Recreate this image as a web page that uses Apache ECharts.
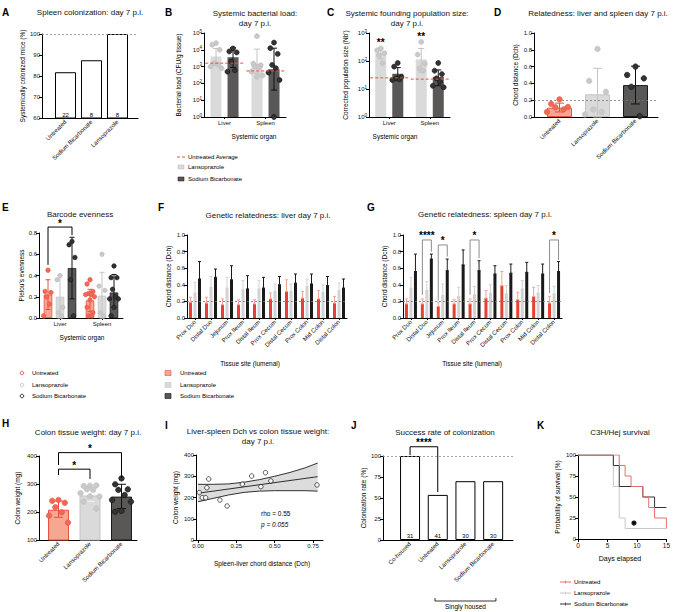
<!DOCTYPE html>
<html><head><meta charset="utf-8">
<script src="https://cdn.jsdelivr.net/npm/echarts@6/dist/echarts.min.js"></script>
<style>html,body{margin:0;padding:0;background:#fff}#c{width:673px;height:612px}</style>
</head><body><div id="c"></div>
<script>
const FONT = '"Liberation Sans", Arial, Helvetica, sans-serif';

// ================= DATA =================
// A
const aCats = ['Untreated', 'Sodium Bicarbonate', 'Lansoprazole'];
const aValues = [81.8, 87.5, 100];
const aCounts = [22, 8, 8];
// B
const organs = ['Liver', 'Spleen'];
const bLansoMean = [4000, 1500];
const bBicarbMean = [3600, 700];
const bLansoErr = [[1300, 12000], [400, 11000]];
const bBicarbErr = [[900, 13000], [40, 12500]];
const bUntreatedAvg = [1600, 550];
const bLansoPts = [[25000, 20000, 10000, 1600, 1300, 1000, 800], [65000, 1500, 1200, 1000, 900, 500, 300, 250]];
const bBicarbPts = [[12000, 8000, 7000, 2000, 600, 500], [27000, 12500, 5700, 1260, 800, 440, 160, 1]];
// C
const cLansoMean = [190, 115];
const cBicarbMean = [35, 27];
const cLansoErr = [[120, 290], [40, 280]];
const cBicarbErr = [[22, 58], [13, 48]];
const cUntreatedAvg = [25, 22.5];
const cLansoPts = [[280, 240, 190, 160, 83], [480, 170, 80, 54, 45]];
const cBicarbPts = [[85, 63, 27, 24, 22, 21], [85, 45, 34, 24, 18, 13, 11.5]];
const cSigLabels = ['**', '**'];
const cSigY = [440, 780];
// D
const dCats = ['Untreated', 'Lansoprazole', 'Sodium Bicarbonate'];
const dMeans = [0.11, 0.27, 0.38];
const dErr = [[0.06, 0.165], [0.0, 0.58], [0.155, 0.605]];
const dPts = [[0.21, 0.156, 0.12, 0.116, 0.092, 0.06], [0.81, 0.43, 0.30, 0.09, 0.06, 0.03], [0.60, 0.50, 0.46, 0.36, 0.01]];
// E
const eUntrMean = [0.22, 0.165];
const eLansoMean = [0.20, 0.21];
const eBicarbMean = [0.47, 0.24];
const eUntrErr = [[0.08, 0.36], [0.06, 0.27]];
const eLansoErr = [[0.0, 0.40], [0.0, 0.43]];
const eBicarbErr = [[0.18, 0.76], [0.10, 0.41]];
const eUntrPts = [[0.45, 0.25, 0.24, 0.20, 0.13, 0.02], [0.36, 0.32, 0.25, 0.23, 0.22, 0.22, 0.20, 0.17, 0.10, 0.05, 0.02, 0.02]];
const eLansoPts = [[0.40, 0.36, 0.10, 0.05, 0.02], [0.60, 0.30, 0.26, 0.05, 0.02]];
const eBicarbPts = [[0.72, 0.69, 0.57, 0.36, 0.02], [0.49, 0.38, 0.38, 0.27, 0.20, 0.18, 0.18, 0.10, 0.02]];
// F / G
const siteCats = ['Prox Duo', 'Distal Duo', 'Jejunum', 'Prox Ileum', 'Distal Ileum', 'Prox Cecum', 'Distal Cecum', 'Prox Colon', 'Mid Colon', 'Distal Colon'];
const fUntr = [0.19, 0.18, 0.16, 0.16, 0.17, 0.23, 0.32, 0.24, 0.23, 0.18];
const fUntrHi = [0.25, 0.25, 0.23, 0.22, 0.22, 0.30, 0.46, 0.32, 0.33, 0.26];
const fLanso = [0.30, 0.37, 0.36, 0.34, 0.35, 0.32, 0.32, 0.38, 0.31, 0.33];
const fLansoHi = [0.43, 0.50, 0.49, 0.45, 0.45, 0.41, 0.41, 0.47, 0.40, 0.42];
const fBicarb = [0.47, 0.49, 0.46, 0.35, 0.36, 0.40, 0.42, 0.41, 0.39, 0.36];
const fBicarbHi = [0.68, 0.59, 0.63, 0.51, 0.49, 0.50, 0.53, 0.53, 0.50, 0.47];
const gUntr = [0.17, 0.17, 0.14, 0.17, 0.17, 0.24, 0.39, 0.22, 0.26, 0.18];
const gUntrHi = [0.23, 0.23, 0.19, 0.22, 0.23, 0.33, 0.56, 0.31, 0.37, 0.26];
const gLanso = [0.36, 0.33, 0.27, 0.26, 0.28, 0.30, 0.29, 0.35, 0.30, 0.29];
const gLansoHi = [0.49, 0.44, 0.41, 0.37, 0.38, 0.40, 0.39, 0.45, 0.39, 0.38];
const gBicarb = [0.56, 0.71, 0.57, 0.64, 0.57, 0.53, 0.54, 0.55, 0.53, 0.56];
const gBicarbHi = [0.77, 0.77, 0.71, 0.82, 0.69, 0.63, 0.65, 0.67, 0.65, 0.68];
const gSigCats = [1, 2, 4, 9];
const gSigLabels = ['****', '*', '*', '*'];
const gSigTop = [0.94, 0.88, 0.94, 0.94];
const gSigLeftEnd = [0.28, 0.21, 0.28, 0.30];
const gSigRightEnd = [0.80, 0.74, 0.72, 0.70];
// H
const hCats = ['Untreated', 'Lansoprazole', 'Sodium Bicarbonate'];
const hMeans = [208, 259, 255];
const hErr = [[181, 239], [237, 282], [212, 299]];
const hPts = [[243, 240, 233, 217, 199, 187, 162], [294, 293, 295, 281, 279, 267, 255, 256, 237, 212], [320, 299, 281, 279, 261, 243, 237, 204, 201]];
const hSigLabels = ['*', '*'];
const hSigPairs = [[0, 1], [0, 2]];
const hSigTop = [353, 412];
const hSigLeftEnd = [332, 368];
const hSigRightEnd = [318, 321];
// I
const iX = [0.008, 0.028, 0.05, 0.058, 0.07, 0.143, 0.19, 0.289, 0.35, 0.41, 0.44, 0.475, 0.776];
const iY = [223, 199, 199, 246, 287, 188, 160, 263, 301, 251, 317, 278, 259];
const iBandX = [0, 0.1, 0.2, 0.3, 0.4, 0.5, 0.6, 0.7, 0.78];
const iUpper = [262, 262, 264, 272, 284, 300, 318, 340, 362];
const iLower = [180, 196, 212, 224, 230, 232, 232, 232, 230];
const iFitX = [0, 0.78];
const iFitY = [220, 298];
// J
const jCats = ['Co-housed', 'Untreated', 'Lansoprazole', 'Sodium Bicarbonate'];
const jValues = [100, 53.7, 70, 70];
const jCounts = [31, 41, 30, 30];
// K
const kUntreated = [[0, 100], [7, 87.5], [8, 75], [9, 62.5], [11, 50], [12, 37.5], [13, 25], [15, 12.5]];
const kLanso = [[0, 100], [6, 62.5], [7, 25], [8, 12.5], [15, 12.5]];
const kBicarb = [[0, 100], [6, 87.5], [7, 62.5], [11, 50], [13, 37.5], [15, 37.5]];

// ================= STYLE =================
const C_UNTR_FILL = '#f6a691', C_UNTR_LINE = '#e5533f', C_UNTR_DOT = '#ee6a57';
const C_LAN_FILL = '#dadada', C_LAN_LINE = '#c4c4c4', C_LAN_DOT = '#c9c9c9';
const C_BIC_FILL = '#5a5757', C_BIC_LINE = '#1a1a1a', C_BIC_DOT = '#333333';
const F_RED = '#e8402f', F_REDERR = '#f4a296', F_GREY = '#d2d2d2', F_BLACK = '#1a1a1a';

const grid = [], xAxis = [], yAxis = [], series = [], graphic = [];
const AX = { show: true, onZero: false, lineStyle: { color: '#000', width: 1 } };
const TK = { show: true, length: 3, lineStyle: { color: '#000', width: 1 } };
const LB = { fontSize: 6, color: '#111', fontFamily: FONT, fontWeight: 'normal', margin: 2 };
const NM = { fontSize: 6.5, fontFamily: FONT, fontWeight: 'normal', color: '#000' };
const JIT = [0, -1, 1, -0.5, 0.5, -1.5, 1.5, 0, -1, 1, -0.5, 0.5];

function G(left, top, width, height) { grid.push({ left, top, width, height, containLabel: false }); return grid.length - 1; }
function yV(gi, min, max, interval, name, gap, extra) {
  yAxis.push(Object.assign({
    type: 'value', gridIndex: gi, min, max, interval, axisLine: AX, axisTick: TK,
    axisLabel: Object.assign({}, LB), splitLine: { show: false },
    name, nameLocation: 'middle', nameGap: gap, nameRotate: 90, nameTextStyle: NM
  }, extra || {}));
  return yAxis.length - 1;
}
function yLog(gi, max, name, gap) {
  yAxis.push({
    type: 'log', logBase: 10, gridIndex: gi, min: 1, max, axisLine: AX, axisTick: TK, splitLine: { show: false },
    minorTick: { show: false },
    axisLabel: Object.assign({}, LB, {
      formatter: v => '{b|10}{s|' + Math.round(Math.log10(v)) + '}',
      rich: { b: { fontSize: 6, fontFamily: FONT, color: '#111' }, s: { fontSize: 4.5, fontFamily: FONT, color: '#111', verticalAlign: 'top', padding: [0, 0, 4, 0] } }
    }),
    name, nameLocation: 'middle', nameGap: gap, nameRotate: 90, nameTextStyle: NM
  });
  return yAxis.length - 1;
}
function yH(gi, min, max, type) { yAxis.push({ type: type || 'value', gridIndex: gi, min, max, show: false }); return yAxis.length - 1; }
function xHV(gi, min, max) { xAxis.push({ type: 'value', gridIndex: gi, min, max, show: false }); return xAxis.length - 1; }
function xLine(gi) {
  xAxis.push({ type: 'value', gridIndex: gi, min: 0, max: 1, axisLine: AX, axisTick: { show: false }, axisLabel: { show: false }, splitLine: { show: false } });
  return xAxis.length - 1;
}
function xC(gi, data, o) {
  o = o || {};
  xAxis.push({
    type: 'category', gridIndex: gi, data, boundaryGap: true,
    axisLine: o.line === false ? { show: false } : AX,
    axisTick: o.tick === false ? { show: false } : { show: true, alignWithLabel: true, length: 2, lineStyle: { color: '#000' } },
    axisLabel: Object.assign({}, LB, { interval: 0, rotate: o.rotate || 0, margin: o.margin || 3, fontSize: o.fs || 6 })
  });
  return xAxis.length - 1;
}
function T(x, y, text, st) {
  graphic.push({ type: 'text', x, y, silent: true, style: Object.assign({ text, fontSize: 6, fontFamily: FONT, fontWeight: 'normal', fill: '#000', align: 'left', verticalAlign: 'middle' }, st || {}) });
}
function letter(x, y, t) { T(x, y, t, { fontSize: 10, fontWeight: 'bold' }); }
function title(x, y, t) { T(x, y, t, { fontSize: 8, align: 'center', fill: '#111' }); }
function dots(xi, yi, data, fill, stroke, size) {
  series.push({ type: 'scatter', xAxisIndex: xi, yAxisIndex: yi, data, symbol: 'circle', symbolSize: size || 5, z: 6, silent: true,
    itemStyle: { color: fill, borderColor: stroke, borderWidth: 0.6, opacity: 1 } });
}
function pts(center, vals, spread) { return vals.map((v, k) => [center + JIT[k % JIT.length] * spread, v]); }
function errBars(xi, yi, items, color, cap, lw) {
  series.push({ type: 'custom', xAxisIndex: xi, yAxisIndex: yi, data: items, z: 5, silent: true, clip: false,
    renderItem: (p, api) => {
      const x = api.value(0), lo = api.value(1), hi = api.value(2);
      const a = api.coord([x, lo]), b = api.coord([x, hi]);
      const st = { stroke: color, lineWidth: lw || 1 };
      return { type: 'group', children: [
        { type: 'line', shape: { x1: a[0], y1: a[1], x2: b[0], y2: b[1] }, style: st },
        { type: 'line', shape: { x1: b[0] - cap / 2, y1: b[1], x2: b[0] + cap / 2, y2: b[1] }, style: st },
        { type: 'line', shape: { x1: a[0] - cap / 2, y1: a[1], x2: a[0] + cap / 2, y2: a[1] }, style: st }
      ] };
    } });
}
function hSeg(xi, yi, items, half, color) {
  series.push({ type: 'custom', xAxisIndex: xi, yAxisIndex: yi, data: items, z: 7, silent: true, clip: false,
    renderItem: (p, api) => {
      const a = api.coord([api.value(0) - half, api.value(1)]), b = api.coord([api.value(0) + half, api.value(1)]);
      return { type: 'line', shape: { x1: a[0], y1: a[1], x2: b[0], y2: b[1] }, style: { stroke: color, lineWidth: 1, lineDash: [3, 2] } };
    } });
}
function brackets(xi, yi, items, labels, color, fs) {
  series.push({ type: 'custom', xAxisIndex: xi, yAxisIndex: yi, data: items, z: 7, silent: true, clip: false,
    renderItem: (p, api) => {
      const x1 = api.value(0), x2 = api.value(1), top = api.value(2), b1 = api.value(3), b2 = api.value(4);
      const p1 = api.coord([x1, b1]), p2 = api.coord([x1, top]), p3 = api.coord([x2, top]), p4 = api.coord([x2, b2]);
      return { type: 'group', children: [
        { type: 'polyline', shape: { points: [p1, p2, p3, p4] }, style: { stroke: color, lineWidth: 1, fill: null } },
        { type: 'text', x: (p2[0] + p3[0]) / 2, y: p2[1] + 1, style: { text: labels[p.dataIndex], fontFamily: FONT, fontSize: fs || 10, fontWeight: 'bold', fill: '#000', align: 'center', verticalAlign: 'bottom' } }
      ] };
    } });
}
function refLine(xi, yi, v, color, dash) {
  series.push({ type: 'line', xAxisIndex: xi, yAxisIndex: yi, data: [], silent: true,
    markLine: { silent: true, symbol: 'none', animation: false, label: { show: false },
      lineStyle: { type: dash || [2, 2], color: color || '#8a8a8a', width: 0.8 }, data: [{ yAxis: v }] } });
}

// ================= PANEL A =================
(function () {
  const gA = G(42, 34, 96, 84), gB = G(52.5, 34, 78, 84);
  const xA = xLine(gA), yA = yV(gA, 60, 100, 10, 'Systemically colonized mice (%)', 16);
  const xB = xC(gB, aCats, { line: false, tick: false, rotate: 45 });
  const yB = yH(gB, 60, 100);
  series.push({ type: 'bar', xAxisIndex: xB, yAxisIndex: yB, data: aValues, barWidth: 21, z: 3,
    itemStyle: { color: '#fff', borderColor: '#000', borderWidth: 1 },
    label: { show: true, position: 'insideBottom', distance: 1, fontSize: 6, fontFamily: FONT, color: '#000', formatter: p => String(aCounts[p.dataIndex]) } });
  refLine(xA, yA, 100);
  letter(2, 12, 'A'); title(90, 12, 'Spleen colonization: day 7 p.i.');
})();

// ================= PANEL B =================
(function () {
  const g = G(204, 33, 82, 84);
  const xc = xC(g, organs, { margin: 3 }), xv = xHV(g, -0.5, 1.5);
  const y = yLog(g, 100000, 'Bacterial load (CFU/g tissue)', 22);
  const off = 8.5 / 41;
  series.push({ type: 'bar', xAxisIndex: xc, yAxisIndex: y, data: bLansoMean, barWidth: 11, barGap: '55%', itemStyle: { color: C_LAN_FILL }, z: 2 });
  series.push({ type: 'bar', xAxisIndex: xc, yAxisIndex: y, data: bBicarbMean, barWidth: 11, barGap: '55%', itemStyle: { color: C_BIC_FILL }, z: 2 });
  errBars(xv, y, bLansoErr.map((e, i) => [i - off, e[0], e[1]]), '#c4c4c4', 6);
  errBars(xv, y, bBicarbErr.map((e, i) => [i + off, e[0], e[1]]), '#111', 6);
  bLansoPts.forEach((arr, i) => dots(xv, y, pts(i - off, arr, 0.09), C_LAN_DOT, '#bdbdbd', 5));
  bBicarbPts.forEach((arr, i) => dots(xv, y, pts(i + off, arr, 0.09), C_BIC_DOT, '#111', 5));
  hSeg(xv, y, bUntreatedAvg.map((v, i) => [i, v]), 0.47, '#e5533f');
  letter(165, 12, 'B');
  title(255, 13, 'Systemic bacterial load:'); title(255, 23, 'day 7 p.i.');
  T(254, 136, 'Systemic organ', { fontSize: 6.5, align: 'center' });
  graphic.push({ type: 'line', silent: true, shape: { x1: 177, y1: 157, x2: 185, y2: 157 }, style: { stroke: '#e5533f', lineWidth: 1, lineDash: [3, 2] } });
  T(188, 157, 'Untreated Average');
  graphic.push({ type: 'rect', silent: true, shape: { x: 178, y: 165, width: 6, height: 4 }, style: { fill: C_LAN_FILL, stroke: '#bbb', lineWidth: 0.5 } });
  T(188, 167, 'Lansoprazole');
  graphic.push({ type: 'rect', silent: true, shape: { x: 178, y: 177, width: 6, height: 4 }, style: { fill: C_BIC_FILL, stroke: '#111', lineWidth: 0.5 } });
  T(188, 179, 'Sodium Bicarbonate');
})();

// ================= PANEL C =================
(function () {
  const g = G(369, 33, 81, 84);
  const xc = xC(g, organs, { margin: 3 }), xv = xHV(g, -0.5, 1.5);
  const y = yLog(g, 1000, 'Corrected population size (Nb\')', 20);
  const off = 8.5 / 40.5;
  series.push({ type: 'bar', xAxisIndex: xc, yAxisIndex: y, data: cLansoMean, barWidth: 11, barGap: '55%', itemStyle: { color: C_LAN_FILL }, z: 2 });
  series.push({ type: 'bar', xAxisIndex: xc, yAxisIndex: y, data: cBicarbMean, barWidth: 11, barGap: '55%', itemStyle: { color: C_BIC_FILL }, z: 2 });
  errBars(xv, y, cLansoErr.map((e, i) => [i - off, e[0], e[1]]), '#c4c4c4', 6);
  errBars(xv, y, cBicarbErr.map((e, i) => [i + off, e[0], e[1]]), '#111', 6);
  cLansoPts.forEach((arr, i) => dots(xv, y, pts(i - off, arr, 0.09), C_LAN_DOT, '#bdbdbd', 5));
  cBicarbPts.forEach((arr, i) => dots(xv, y, pts(i + off, arr, 0.09), C_BIC_DOT, '#111', 5));
  hSeg(xv, y, cUntreatedAvg.map((v, i) => [i, v]), 0.47, '#e5533f');
  series.push({ type: 'custom', xAxisIndex: xv, yAxisIndex: y, data: cSigY.map((v, i) => [i - off, v]), z: 7, silent: true, clip: false,
    renderItem: (p, api) => { const c = api.coord([api.value(0), api.value(1)]);
      return { type: 'text', x: c[0], y: c[1], style: { text: cSigLabels[p.dataIndex], fontFamily: FONT, fontSize: 10, fontWeight: 'bold', fill: '#000', align: 'center', verticalAlign: 'middle' } }; } });
  letter(327, 12, 'C');
  title(407, 13, 'Systemic founding population size:'); title(407, 23, 'day 7 p.i.');
  T(395, 136, 'Systemic organ', { fontSize: 6.5, align: 'center' });
})();

// ================= PANEL D =================
(function () {
  const gA = G(534, 33, 124, 84), gB = G(540.5, 33, 114, 84);
  const xA = xLine(gA), yA = yV(gA, 0, 1, 0.2, 'Chord distance (Dch)', 15, { axisLabel: Object.assign({}, LB, { formatter: v => v.toFixed(1) }) });
  const xB = xC(gB, dCats, { line: false, tick: false, rotate: 45 }), xv = xHV(gB, -0.5, 2.5);
  const yB = yH(gB, 0, 1);
  const fills = [C_UNTR_FILL, C_LAN_FILL, C_BIC_FILL], lines = [C_UNTR_LINE, C_LAN_LINE, C_BIC_LINE];
  series.push({ type: 'bar', xAxisIndex: xB, yAxisIndex: yB, barWidth: 25, z: 2,
    data: dMeans.map((v, i) => ({ value: v, itemStyle: { color: fills[i], borderColor: lines[i], borderWidth: 1 } })) });
  refLine(xA, yA, 0.2, '#777');
  const ec = [C_UNTR_LINE, '#c4c4c4', '#111'];
  dErr.forEach((e, i) => errBars(xv, yB, [[i, e[0], e[1]]], ec[i], 9));
  const df = [C_UNTR_DOT, C_LAN_DOT, C_BIC_DOT], ds = [C_UNTR_LINE, '#bdbdbd', '#111'];
  dPts.forEach((arr, i) => dots(xv, yB, pts(i, arr, 0.22), df[i], ds[i], 5.5));
  letter(494, 12, 'D');
  title(598, 13, 'Relatedness: liver and spleen day 7 p.i.');
})();

// ================= PANEL E =================
(function () {
  const g = G(39, 233, 84, 85);
  const xc = xC(g, organs, { margin: 3 }), xv = xHV(g, -0.5, 1.5);
  const y = yV(g, 0, 0.8, 0.2, 'Pielou\'s evenness', 14, { axisLabel: Object.assign({}, LB, { formatter: v => v.toFixed(1) }) });
  const off = 12 / 42;
  series.push({ type: 'bar', xAxisIndex: xc, yAxisIndex: y, data: eUntrMean, barWidth: 8.5, barGap: '41%', z: 2, itemStyle: { color: C_UNTR_FILL, borderColor: C_UNTR_LINE, borderWidth: 0.8 } });
  series.push({ type: 'bar', xAxisIndex: xc, yAxisIndex: y, data: eLansoMean, barWidth: 8.5, barGap: '41%', z: 2, itemStyle: { color: C_LAN_FILL, borderColor: C_LAN_LINE, borderWidth: 0.8 } });
  series.push({ type: 'bar', xAxisIndex: xc, yAxisIndex: y, data: eBicarbMean, barWidth: 8.5, barGap: '41%', z: 2, itemStyle: { color: C_BIC_FILL, borderColor: C_BIC_LINE, borderWidth: 0.8 } });
  errBars(xv, y, eUntrErr.map((e, i) => [i - off, e[0], e[1]]), C_UNTR_LINE, 5);
  errBars(xv, y, eLansoErr.map((e, i) => [i, e[0], e[1]]), '#c4c4c4', 5);
  errBars(xv, y, eBicarbErr.map((e, i) => [i + off, e[0], e[1]]), '#111', 5);
  eUntrPts.forEach((arr, i) => dots(xv, y, pts(i - off, arr, 0.07), C_UNTR_DOT, C_UNTR_LINE, 4.5));
  eLansoPts.forEach((arr, i) => dots(xv, y, pts(i, arr, 0.07), C_LAN_DOT, '#bdbdbd', 4.5));
  eBicarbPts.forEach((arr, i) => dots(xv, y, pts(i + off, arr, 0.07), C_BIC_DOT, '#111', 4.5));
  brackets(xv, y, [[-off, off, 0.856, 0.50, 0.78]], ['*'], '#000', 10);
  letter(2, 207, 'E');
  title(80, 214, 'Barcode evenness');
  T(82, 337, 'Systemic organ', { fontSize: 6.5, align: 'center' });
  const lc = [C_UNTR_LINE, '#c4c4c4', '#222'], ln = ['Untreated', 'Lansoprazole', 'Sodium Bicarbonate'], ly = [373, 385, 396];
  ln.forEach((n, k) => {
    graphic.push({ type: 'circle', silent: true, shape: { cx: 22, cy: ly[k], r: 1.8 }, style: { fill: '#fff', stroke: lc[k], lineWidth: 0.9 } });
    T(32, ly[k], n);
  });
})();

// ================= PANELS F & G =================
function sitePanel(left, width, u, uh, l, lh, b, bh) {
  const g = G(left, 235, width, 83);
  const xc = xC(g, siteCats, { rotate: 45, margin: 3 }), xv = xHV(g, -0.5, 9.5);
  const y = yV(g, 0, 1, 0.2, 'Chord distance (Dch)', 15, { axisLabel: Object.assign({}, LB, { formatter: v => v.toFixed(1) }) });
  const cw = width / 10, off = 4.5 / cw;
  series.push({ type: 'bar', xAxisIndex: xc, yAxisIndex: y, data: u, barWidth: 3, barGap: '50%', z: 2, itemStyle: { color: F_RED } });
  series.push({ type: 'bar', xAxisIndex: xc, yAxisIndex: y, data: l, barWidth: 3, barGap: '50%', z: 2, itemStyle: { color: F_GREY } });
  series.push({ type: 'bar', xAxisIndex: xc, yAxisIndex: y, data: b, barWidth: 3, barGap: '50%', z: 2, itemStyle: { color: F_BLACK } });
  errBars(xv, y, u.map((v, i) => [i - off, v, uh[i]]), F_REDERR, 3);
  errBars(xv, y, l.map((v, i) => [i, v, lh[i]]), F_GREY, 3);
  errBars(xv, y, b.map((v, i) => [i + off, v, bh[i]]), F_BLACK, 3);
  refLine(xv, y, 0.2, '#777');
  return { xv, y, off };
}
(function () {
  sitePanel(187, 160, fUntr, fUntrHi, fLanso, fLansoHi, fBicarb, fBicarbHi);
  letter(158, 207, 'F');
  title(268, 215, 'Genetic relatedness: liver day 7 p.i.');
  T(250, 363, 'Tissue site (lumenal)', { fontSize: 6.5, align: 'center' });
  const fc = [C_UNTR_FILL, C_LAN_FILL, C_BIC_FILL], sc = [C_UNTR_LINE, '#c4c4c4', '#111'], ln = ['Untreated', 'Lansoprazole', 'Sodium Bicarbonate'], ly = [373, 385, 396];
  ln.forEach((n, k) => {
    graphic.push({ type: 'rect', silent: true, shape: { x: 165, y: ly[k] - 2.5, width: 6, height: 5 }, style: { fill: fc[k], stroke: sc[k], lineWidth: 0.6 } });
    T(180, ly[k], n);
  });
})();
(function () {
  const r = sitePanel(403, 159, gUntr, gUntrHi, gLanso, gLansoHi, gBicarb, gBicarbHi);
  brackets(r.xv, r.y, gSigCats.map((c, k) => [c - r.off, c + r.off, gSigTop[k], gSigLeftEnd[k], gSigRightEnd[k]]), gSigLabels, '#8c8c8c', 10);
  letter(367, 207, 'G');
  title(485, 214, 'Genetic relatedness: spleen day 7 p.i.');
  T(472, 363, 'Tissue site (lumenal)', { fontSize: 6.5, align: 'center' });
})();

// ================= PANEL H =================
(function () {
  const gA = G(39, 456, 98, 84), gB = G(42.75, 456, 94.5, 84);
  const xA = xLine(gA), yA = yV(gA, 100, 400, 100, 'Colon weight (mg)', 18);
  const xB = xC(gB, hCats, { line: false, tick: false, rotate: 45 }), xv = xHV(gB, -0.5, 2.5);
  const yB = yH(gB, 100, 400);
  const fills = [C_UNTR_FILL, C_LAN_FILL, C_BIC_FILL], lines = [C_UNTR_LINE, C_LAN_LINE, C_BIC_LINE];
  series.push({ type: 'bar', xAxisIndex: xB, yAxisIndex: yB, barWidth: 21, z: 2,
    data: hMeans.map((v, i) => ({ value: v, itemStyle: { color: fills[i], borderColor: lines[i], borderWidth: 1 } })) });
  const ec = [C_UNTR_LINE, '#f2f2f2', '#111'];
  hErr.forEach((e, i) => errBars(xv, yB, [[i, e[0], e[1]]], ec[i], 9));
  const df = [C_UNTR_DOT, C_LAN_DOT, C_BIC_DOT], ds = [C_UNTR_LINE, '#bdbdbd', '#111'];
  hPts.forEach((arr, i) => dots(xv, yB, pts(i, arr, 0.2), df[i], ds[i], 5.5));
  brackets(xv, yB, hSigPairs.map((pr, k) => [pr[0], pr[1], hSigTop[k], hSigLeftEnd[k], hSigRightEnd[k]]), hSigLabels, '#000', 10);
  letter(2, 423, 'H');
  title(88, 432, 'Colon tissue weight: day 7 p.i.');
})();

// ================= PANEL I =================
(function () {
  const g = G(196, 455, 127, 85);
  xAxis.push({ type: 'value', gridIndex: g, min: -0.013, max: 0.815, axisLine: AX,
    axisTick: Object.assign({}, TK, { customValues: [0, 0.25, 0.5, 0.75] }),
    axisLabel: Object.assign({}, LB, { margin: 3, customValues: [0, 0.25, 0.5, 0.75], formatter: v => v.toFixed(2) }), splitLine: { show: false } });
  const x = xAxis.length - 1;
  const y = yV(g, 0, 400, 100, 'Colon weight (mg)', 17);
  series.push({ type: 'custom', xAxisIndex: x, yAxisIndex: y, data: [[0, 0]], z: 1, silent: true, clip: false,
    renderItem: (p, api) => {
      const up = iBandX.map((bx, k) => api.coord([bx, iUpper[k]]));
      const lo = iBandX.map((bx, k) => api.coord([bx, iLower[k]])).reverse();
      return { type: 'polygon', shape: { points: up.concat(lo) }, style: { fill: '#dcdcdc', stroke: null } };
    } });
  const bl = { type: 'line', xAxisIndex: x, yAxisIndex: y, symbol: 'none', smooth: false, silent: true, z: 3, lineStyle: { color: '#000', width: 0.8 } };
  series.push(Object.assign({}, bl, { data: iBandX.map((bx, k) => [bx, iUpper[k]]) }));
  series.push(Object.assign({}, bl, { data: iBandX.map((bx, k) => [bx, iLower[k]]) }));
  series.push(Object.assign({}, bl, { data: iFitX.map((fx, k) => [fx, iFitY[k]]) }));
  series.push({ type: 'scatter', xAxisIndex: x, yAxisIndex: y, data: iX.map((v, k) => [v, iY[k]]), symbol: 'circle', symbolSize: 4.5, z: 5, silent: true,
    itemStyle: { color: '#fff', borderColor: '#000', borderWidth: 0.8 } });
  letter(165, 425, 'I');
  title(258, 431, 'Liver-spleen Dch vs colon tissue weight:'); title(258, 441, 'day 7 p.i.');
  T(261, 513, 'rho = 0.55', { fontSize: 6.5 });
  T(261, 524, 'p = 0.055', { fontSize: 6.5, fontStyle: 'italic' });
  T(262, 563, 'Spleen-liver chord distance (Dch)', { fontSize: 6.5, align: 'center' });
})();

// ================= PANEL J =================
(function () {
  const gA = G(383, 456, 130, 84), gB = G(396.2, 456, 110.8, 84);
  const xA = xLine(gA), yA = yV(gA, 0, 100, 25, 'Colonization rate (%)', 13);
  const xB = xC(gB, jCats, { line: false, tick: false, rotate: 45 }), xv = xHV(gB, -0.5, 3.5);
  const yB = yH(gB, 0, 100);
  series.push({ type: 'bar', xAxisIndex: xB, yAxisIndex: yB, data: jValues, barWidth: 20, z: 2,
    itemStyle: { color: '#fff', borderColor: '#000', borderWidth: 1 },
    label: { show: true, position: 'insideBottom', distance: 1, fontSize: 6, fontFamily: FONT, color: '#000', formatter: p => String(jCounts[p.dataIndex]) } });
  refLine(xA, yA, 100);
  brackets(xv, yB, [[0, 1, 111, 101, 57]], ['****'], '#000', 10);
  series.push({ type: 'custom', xAxisIndex: xv, yAxisIndex: yB, data: [[0.9, 3.1]], z: 7, silent: true, clip: false,
    renderItem: (p, api) => {
      const a = api.coord([api.value(0), 0]), b = api.coord([api.value(1), 0]);
      const yy = a[1] + 61;
      return { type: 'group', children: [
        { type: 'polyline', shape: { points: [[a[0], yy - 3], [a[0], yy], [b[0], yy], [b[0], yy - 3]] }, style: { stroke: '#000', lineWidth: 0.8, fill: null } },
        { type: 'text', x: (a[0] + b[0]) / 2, y: yy + 2, style: { text: 'Singly housed', fontFamily: FONT, fontSize: 6.5, fontWeight: 'normal', fill: '#000', align: 'center', verticalAlign: 'top' } }
      ] };
    } });
  letter(351, 425, 'J');
  title(445, 432, 'Success rate of colonization');
})();

// ================= PANEL K =================
(function () {
  const g = G(578, 455, 91, 84);
  xAxis.push({ type: 'value', gridIndex: g, min: 0, max: 15, interval: 5, axisLine: AX, axisTick: TK,
    axisLabel: Object.assign({}, LB, { fontSize: 6.5, margin: 3 }), splitLine: { show: false } });
  const x = xAxis.length - 1;
  const y = yV(g, 0, 100, 25, 'Probability of survival (%)', 17);
  const sl = (data, color) => series.push({ type: 'line', xAxisIndex: x, yAxisIndex: y, data, step: 'end', symbol: 'none', silent: true, z: 3, lineStyle: { color, width: 1 } });
  sl(kLanso, '#c8c8c8'); sl(kBicarb, '#333'); sl(kUntreated, '#e07068');
  series.push({ type: 'custom', xAxisIndex: x, yAxisIndex: y, data: [[9.5, 19]], z: 7, silent: true, clip: false,
    renderItem: (p, api) => { const c = api.coord([api.value(0), api.value(1)]);
      return { type: 'group', children: [
        { type: 'circle', shape: { cx: c[0], cy: c[1], r: 2.6 }, style: { fill: '#222' } },
        { type: 'text', x: c[0], y: c[1] + 1, style: { text: '*', fontFamily: FONT, fontSize: 9, fontWeight: 'bold', fill: '#000', align: 'center', verticalAlign: 'middle' } }] }; } });
  letter(537, 425, 'K');
  title(620, 432, 'C3H/Hej survival');
  T(620, 558, 'Days elapsed', { fontSize: 7, align: 'center' });
  const lc = ['#e07068', '#c8c8c8', '#333'], ln = ['Untreated', 'Lansoprazole', 'Sodium Bicarbonate'], ly = [582, 593, 604];
  ln.forEach((n, k) => {
    graphic.push({ type: 'line', silent: true, shape: { x1: 560, y1: ly[k], x2: 571, y2: ly[k] }, style: { stroke: lc[k], lineWidth: 1 } });
    graphic.push({ type: 'line', silent: true, shape: { x1: 565.5, y1: ly[k] - 1.5, x2: 565.5, y2: ly[k] + 1.5 }, style: { stroke: lc[k], lineWidth: 0.8 } });
    T(574, ly[k], n);
  });
})();

const chart = echarts.init(document.getElementById('c'), null, { renderer: 'svg', width: 673, height: 612 });
chart.setOption({ animation: false, backgroundColor: '#fff', textStyle: { fontFamily: FONT, fontWeight: 'normal' }, grid, xAxis, yAxis, series, graphic });
</script></body></html>
